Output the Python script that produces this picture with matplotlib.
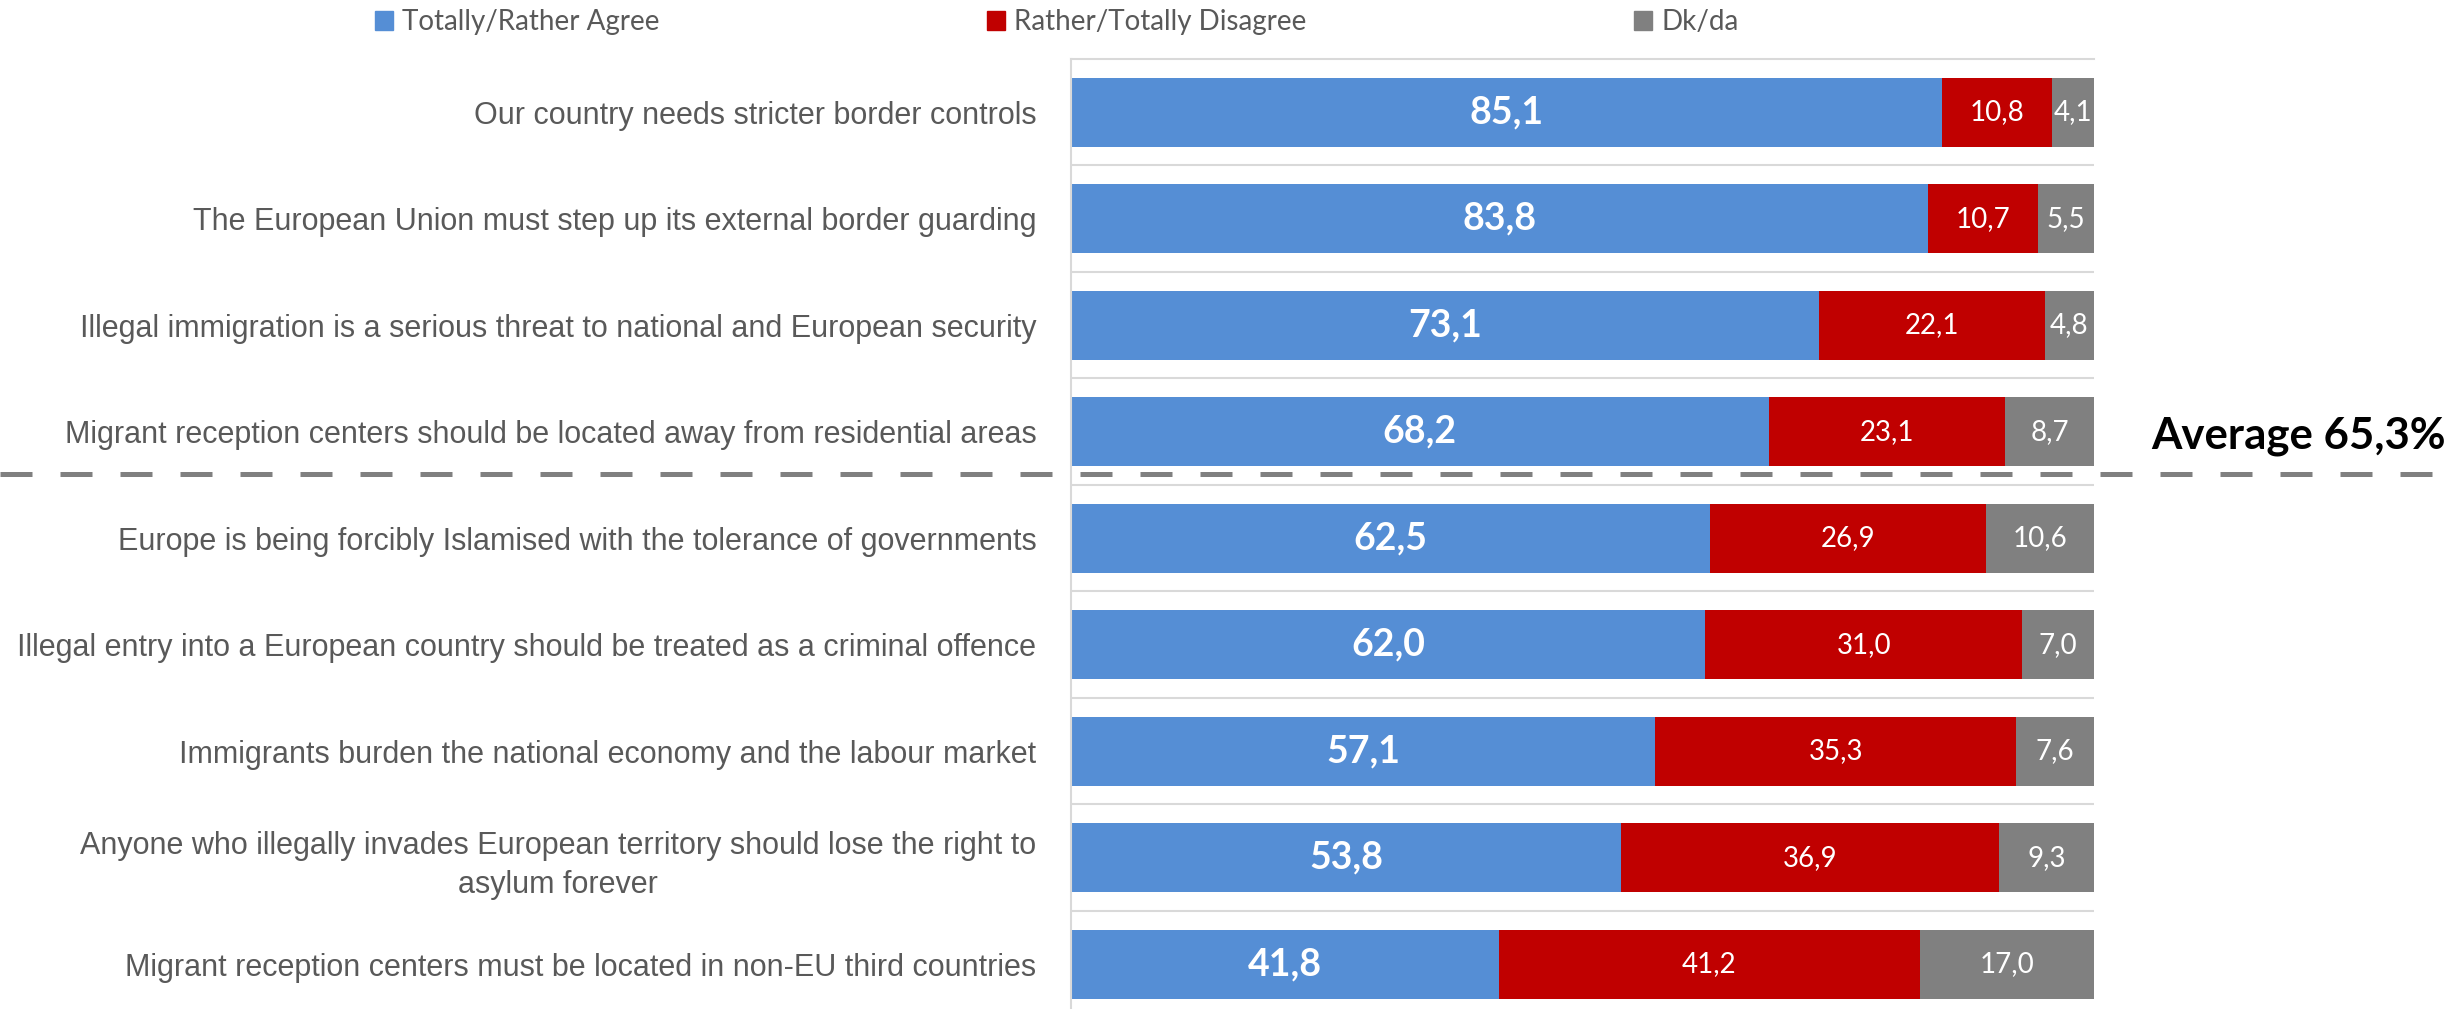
import matplotlib.pyplot as plt
from matplotlib.lines import Line2D
from matplotlib.patches import Patch

# Survey statements (top to bottom) and shares in %
categories = [
    'Our country needs stricter border controls',
    'The European Union must step up its external border guarding',
    'Illegal immigration is a serious threat to national and European security',
    'Migrant reception centers should be located away from residential areas',
    'Europe is being forcibly Islamised with the tolerance of governments',
    'Illegal entry into a European country should be treated as a criminal offence',
    'Immigrants burden the national economy and the labour market',
    'Anyone who illegally invades European territory should lose the right to\nasylum forever',
    'Migrant reception centers must be located in non-EU third countries',
]
agree = [85.1, 83.8, 73.1, 68.2, 62.5, 62.0, 57.1, 53.8, 41.8]
disagree = [10.8, 10.7, 22.1, 23.1, 26.9, 31.0, 35.3, 36.9, 41.2]
dkda = [4.1, 5.5, 4.8, 8.7, 10.6, 7.0, 7.6, 9.3, 17.0]
series_names = ['Totally/Rather Agree', 'Rather/Totally Disagree', 'Dk/da']
average = 65.3

colors = ['#558ED5', '#C00000', '#808080']
label_gray = '#595959'
grid_gray = '#D9D9D9'


def fmt(v):
    return f'{v:.1f}'.replace('.', ',')


W, H = 2458, 1009
fig = plt.figure(figsize=(W / 100, H / 100), dpi=100)
top_px, step_px = 59, 106.5
ax_h = step_px * len(categories)
ax = fig.add_axes([1071 / W, 1 - (top_px + ax_h) / H, (2094 - 1071) / W, ax_h / H])

y = list(range(len(categories)))
left2 = agree
left3 = [a + d for a, d in zip(agree, disagree)]
ax.barh(y, agree, height=0.65, color=colors[0])
ax.barh(y, disagree, left=left2, height=0.65, color=colors[1])
ax.barh(y, dkda, left=left3, height=0.65, color=colors[2])

for i in y:
    ax.text(agree[i] / 2, i, fmt(agree[i]), ha='center', va='center',
            color='white', fontsize=27, fontweight='bold', family='Lato')
    ax.text(left2[i] + disagree[i] / 2, i, fmt(disagree[i]), ha='center', va='center',
            color='white', fontsize=20, family='Lato')
    ax.text(left3[i] + dkda[i] / 2, i, fmt(dkda[i]), ha='center', va='center',
            color='white', fontsize=20, family='Lato')

ax.set_xlim(0, 100)
ax.set_ylim(len(categories) - 0.5, -0.5)
ax.set_xticks([])
ax.set_yticks(y)
ax.set_yticklabels(categories, fontsize=22, color=label_gray, family='Liberation Sans',
                   multialignment='center', linespacing=1.37)
ax.tick_params(axis='y', length=0, pad=25)

for s in ['right', 'bottom']:
    ax.spines[s].set_visible(False)
for s in ['left', 'top']:
    ax.spines[s].set_color(grid_gray)
    ax.spines[s].set_linewidth(1.5)
for i in y[:-1]:
    ax.axhline(i + 0.5, color=grid_gray, lw=1.5, zorder=0)

# dashed separator across the whole figure
yl = 1 - 474 / H
fig.add_artist(Line2D([0, 1], [yl, yl], transform=fig.transFigure, color='#808080',
                      lw=3.6, linestyle=(0, (6.4, 5.6)), solid_capstyle='butt'))
fig.text(2446 / W, 1 - 436 / H, f'Average {fmt(average)}%', ha='right', va='center',
         fontsize=31.5, fontweight='bold', family='Lato', color='black')

handles = [Patch(color=c) for c in colors]
fig.legend(handles, series_names, loc='center left', bbox_to_anchor=(375 / W, 1 - 22 / H),
           ncol=3, frameon=False, handlelength=0.65, handleheight=0.65,
           handletextpad=0.32, columnspacing=11.8, borderpad=0, borderaxespad=0,
           labelcolor=label_gray, prop={'family': 'Lato', 'size': 20})

fig.savefig('out.png', dpi=100)
